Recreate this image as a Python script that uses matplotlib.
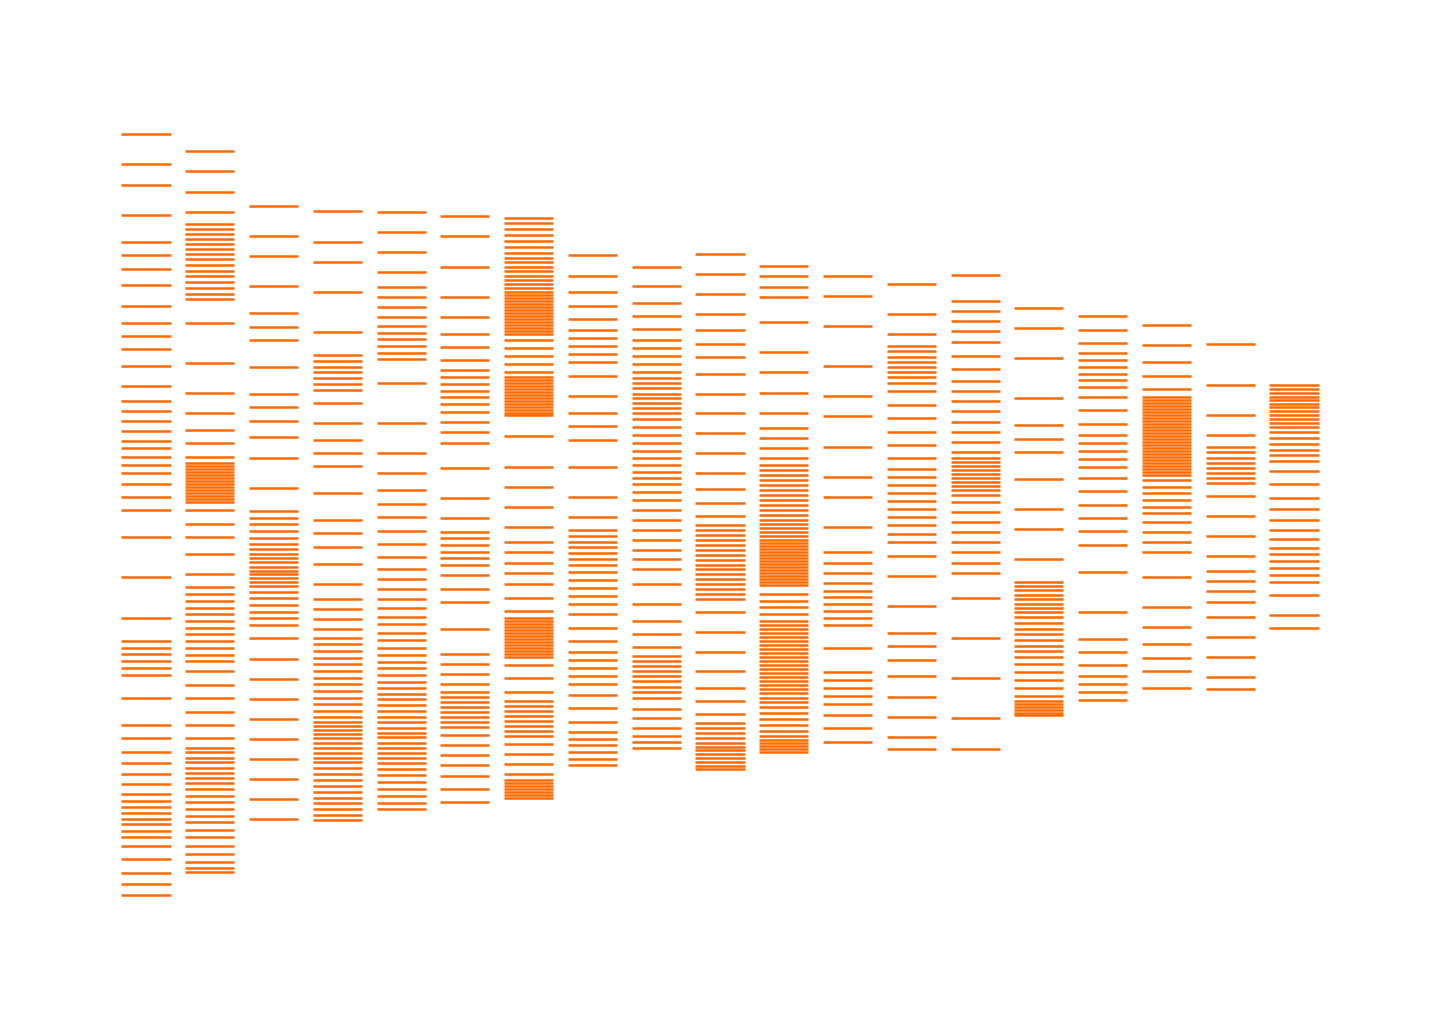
import matplotlib
matplotlib.use("Agg")
import matplotlib.pyplot as plt

# depth readings per core (depth axis points down)
core_01 = [134, 164, 185, 215, 242, 255, 269, 285, 306, 323, 336, 349, 366, 386, 401, 411,
           421, 431, 441, 448, 457, 465, 473, 484, 497, 510, 537, 577, 618, 641, 648, 654,
           661, 668, 675, 698, 725, 738, 752, 763, 774, 784, 794, 801, 807, 813, 819, 824,
           831, 837, 846, 859, 873, 884, 895]
core_02 = [151, 171, 192, 212, 224, 229, 234, 239, 244, 249, 254, 259, 265, 271, 276, 282,
           288, 294, 299, 323, 363, 393, 413, 430, 443, 457, 463, 466, 469, 472, 475, 478,
           481, 484, 487, 490, 493, 496, 499, 502, 510, 524, 537, 554, 574, 587, 594, 601,
           608, 614, 621, 628, 634, 641, 648, 655, 661, 671, 685, 698, 712, 725, 738, 748,
           752, 758, 762, 768, 773, 778, 783, 789, 796, 802, 809, 816, 822, 830, 837, 846,
           854, 862, 868, 872]
core_03 = [206, 236, 256, 286, 313, 327, 340, 367, 394, 407, 421, 437, 458, 488, 511, 518,
           524, 531, 538, 544, 549, 554, 558, 562, 567, 571, 574, 578, 582, 586, 592, 598,
           605, 612, 618, 625, 638, 659, 679, 699, 719, 739, 759, 779, 799, 819]
core_04 = [211, 242, 262, 292, 332, 355, 361, 367, 372, 378, 384, 390, 403, 423, 440, 453,
           466, 493, 520, 533, 547, 564, 584, 599, 609, 619, 629, 638, 644, 651, 658, 664,
           671, 678, 684, 691, 698, 704, 711, 717, 722, 726, 730, 734, 738, 743, 748, 753,
           758, 762, 768, 774, 780, 786, 792, 798, 803, 809, 815, 820]
core_05 = [212, 232, 252, 272, 287, 297, 307, 317, 326, 333, 339, 346, 353, 359, 383, 423,
           453, 473, 490, 504, 517, 531, 544, 557, 569, 579, 589, 599, 608, 617, 624, 633,
           640, 648, 655, 662, 668, 675, 682, 688, 694, 699, 705, 711, 717, 722, 728, 733,
           737, 743, 748, 753, 758, 763, 769, 775, 782, 789, 796, 803, 809]
core_06 = [216, 236, 267, 297, 317, 334, 347, 360, 370, 377, 384, 391, 397, 404, 412, 422,
           432, 443, 468, 498, 518, 532, 538, 545, 552, 558, 565, 575, 589, 602, 629, 654,
           664, 674, 684, 692, 697, 702, 707, 712, 717, 722, 727, 735, 745, 755, 765, 776,
           789, 802]
core_07 = [218, 223, 229, 235, 241, 247, 253, 258, 262, 267, 271, 276, 280, 284, 288, 292,
           295, 298, 301, 304, 307, 310, 313, 316, 319, 322, 325, 328, 331, 334,
           340, 348, 356, 364, 372, 377, 380, 383, 386, 389, 392,
           395, 398, 401, 404, 407, 410, 413, 415, 436, 467, 487, 507, 527, 542, 552, 563,
           573, 584, 598, 611, 618, 621, 624, 627, 630, 633, 636, 639, 642, 645, 648, 651,
           654, 657, 665, 678, 692, 701, 706, 711, 716, 721, 726, 731, 736, 744, 754, 764,
           774, 780, 783, 786, 789, 792, 795, 798]
core_08 = [255, 276, 292, 306, 319, 330, 338, 346, 354, 362, 376, 396, 413, 426, 440, 467,
           497, 517, 530, 536, 542, 547, 553, 559, 565, 572, 580, 588, 596, 604, 614, 628,
           641, 652, 660, 668, 676, 684, 695, 708, 722, 732, 739, 745, 752, 759, 765]
core_09 = [267, 286, 303, 316, 329, 340, 348, 356, 364, 372, 378, 383, 388, 394, 398, 403,
           408, 413, 419, 427, 435, 443, 451, 458, 465, 472, 478, 484, 492, 500, 510, 520,
           530, 540, 550, 559, 569, 584, 604, 621, 634, 647, 656, 661, 666, 671, 676, 681,
           687, 692, 698, 709, 718, 728, 736, 742, 748]
core_10 = [254, 274, 294, 314, 330, 344, 357, 374, 394, 413, 433, 453, 473, 489, 503, 516,
           525, 530, 535, 540, 545, 550, 555, 560, 565, 569, 574, 579, 584, 589, 594, 599,
           612, 632, 652, 671, 688, 701, 714, 723, 728, 733, 738, 743, 747, 750, 754, 758,
           762, 766, 769]
core_11 = [266, 276, 287, 297, 322, 352, 372, 393, 413, 428, 438, 448, 458, 465, 470, 475,
           480, 485, 490, 495, 500, 505, 510, 515, 520, 524, 528, 532, 536, 540, 543, 546,
           549, 552, 555, 558, 561, 564, 567, 570, 573, 576, 579, 582, 585,
           594, 601, 607, 614, 621, 625, 629, 633, 637, 641, 645, 649, 653, 657, 661, 665,
           669, 673, 677, 681, 685, 689, 693, 698, 702, 707, 713, 719, 725, 731, 736, 740,
           743, 746, 749, 752]
core_12 = [276, 296, 326, 366, 396, 416, 447, 477, 497, 527, 552, 563, 573, 583, 591, 597,
           604, 611, 618, 625, 648, 672, 680, 688, 696, 704, 715, 728, 742]
core_13 = [284, 314, 334, 346, 351, 357, 362, 367, 372, 377, 383, 391, 405, 418, 432, 445,
           458, 469, 477, 485, 493, 501, 509, 517, 525, 534, 542, 556, 576, 606, 633, 646,
           660, 676, 697, 717, 737, 749]
core_14 = [275, 301, 311, 321, 331, 342, 356, 369, 381, 391, 401, 411, 422, 432, 442, 452,
           458, 462, 466, 470, 474, 478, 482, 486, 490, 495, 502, 512, 522, 532, 542, 552,
           563, 573, 598, 638, 678, 718, 749]
core_15 = [308, 328, 358, 398, 425, 439, 452, 479, 509, 529, 559, 582, 586, 590, 595, 599,
           604, 608, 612, 617, 623, 629, 634, 640, 646, 651, 657, 664, 672, 680, 688, 696,
           701, 704, 707, 710, 713, 715]
core_16 = [316, 330, 343, 353, 360, 367, 374, 380, 387, 397, 410, 424, 435, 443, 451, 459,
           467, 478, 491, 505, 518, 531, 545, 572, 612, 639, 652, 665, 676, 684, 692, 700]
core_17 = [325, 345, 362, 376, 389, 397, 400, 403, 406, 409, 412, 415, 418, 421, 424, 427,
           430, 433, 436, 439, 442, 445, 448, 451, 454, 457, 460, 463, 466, 469, 472, 475,
           480, 487, 493, 500, 507, 513, 522, 532, 542, 552, 577, 607, 627, 644, 658, 671,
           688]
core_18 = [344, 385, 415, 435, 447, 452, 458, 463, 468, 473, 478, 483, 496, 516, 536, 556,
           571, 581, 591, 602, 617, 637, 657, 677, 689]
core_19 = [385, 389, 393, 397, 400, 404, 407, 411, 415, 419, 423, 427, 432, 438, 444, 450,
           455, 461, 471, 484, 498, 509, 520, 530, 539, 548, 554, 561, 568, 575, 582, 595,
           615, 628]

cores = [core_01, core_02, core_03, core_04, core_05, core_06, core_07, core_08, core_09,
         core_10, core_11, core_12, core_13, core_14, core_15, core_16, core_17, core_18,
         core_19]

fig = plt.figure(figsize=(14.4, 10.29), dpi=100)
ax = fig.add_axes([0, 0, 1, 1])
ax.eventplot(cores, orientation='vertical', lineoffsets=list(range(len(cores))),
             linelengths=0.77, linewidths=1.8, colors='#ff6a00')

ax.set_xlim(-146 / 63.78, (1440 - 146) / 63.78)
ax.set_ylim(1029, 0)
ax.axis('off')

fig.savefig('out.png', dpi=100)
